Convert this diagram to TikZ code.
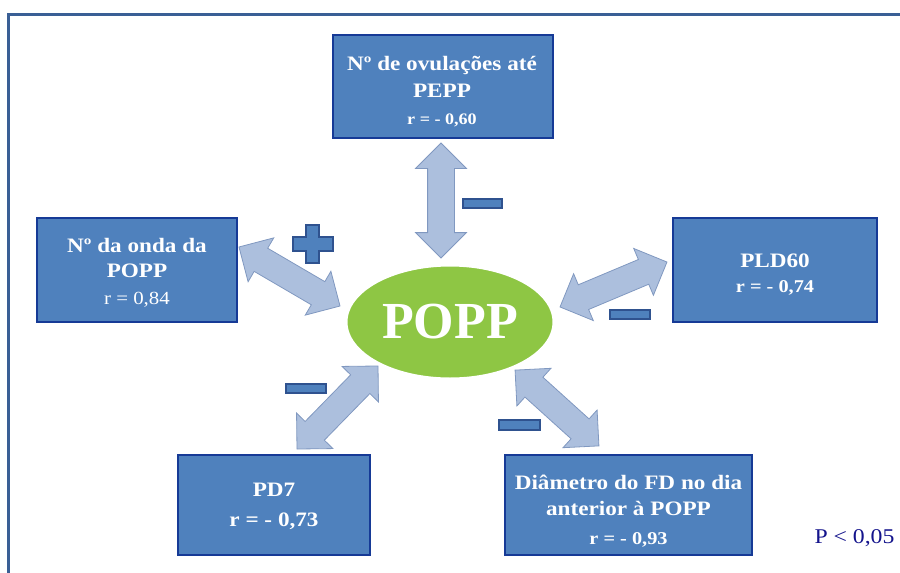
\documentclass[tikz,border=0pt]{standalone}
\usepackage{fontspec}
\setmainfont{Liberation Serif}
\newfontfamily\widefont{Liberation Serif}[FakeStretch=1.13]
\usetikzlibrary{shapes.geometric,shapes.arrows}
\definecolor{boxfill}{RGB}{79,129,189}
\definecolor{boxline}{RGB}{22,58,150}
\definecolor{framecol}{RGB}{58,95,149}
\definecolor{ellfill}{RGB}{142,198,68}
\definecolor{arrfill}{RGB}{172,191,221}
\definecolor{arrline}{RGB}{128,152,192}
\definecolor{signline}{RGB}{47,82,143}
\definecolor{pcol}{RGB}{20,20,140}
\tikzset{
  infobox/.style={draw=boxline, line width=2pt, fill=boxfill, inner sep=0pt},
  boxtext/.style={text=white, align=center, inner sep=0pt},
  dblarrow/.style={shape=double arrow, draw=arrline, line width=0.8pt, fill=arrfill,
    inner xsep=0pt, inner ysep=13pt, double arrow head extend=12pt,
    double arrow tip angle=90},
  signbar/.style={draw=signline, line width=1.5pt, fill=boxfill},
}
\begin{document}
\begin{tikzpicture}[x=1pt,y=-1pt]
\useasboundingbox (0,0) rectangle (900,573);
% frame
\draw[framecol, line width=3pt] (8,575) -- (8,14) -- (902,14);

% boxes
\node[infobox, minimum width=220pt, minimum height=103pt] (top) at (443,86.5) {};
\node[boxtext, font=\widefont\fontsize{20.5}{27}\selectfont\bfseries] (topt) at (442,91.5)
  {Nº de ovulações até\\ PEPP\\ {\fontsize{16}{27}\selectfont r = - 0,60}};

\node[infobox, minimum width=200pt, minimum height=104pt] (left) at (137,270) {};
\node[boxtext, font=\widefont\fontsize{20.5}{25}\selectfont\bfseries] (leftt) at (137,273)
  {Nº da onda da\\ POPP\\[2pt] {\mdseries\fontsize{18.5}{25}\selectfont r = 0,84}};

\node[infobox, minimum width=204pt, minimum height=104pt] (right) at (775,270) {};
\node[boxtext, font=\widefont\fontsize{20.5}{25}\selectfont\bfseries] (rightt) at (775,275)
  {PLD60\\ {\fontsize{18}{25}\selectfont r = - 0,74}};

\node[infobox, minimum width=192pt, minimum height=100pt] (bl) at (274,505) {};
\node[boxtext, font=\widefont\fontsize{20.5}{30}\selectfont\bfseries] (blt) at (274,506)
  {PD7\\ r = - 0,73};

\node[infobox, minimum width=247pt, minimum height=100pt] (br) at (628.5,505) {};
\node[boxtext, font=\widefont\fontsize{20.5}{26}\selectfont\bfseries] (brt) at (628.5,511)
  {Diâmetro do FD no dia\\ anterior à POPP\\[3pt] {\fontsize{18}{26}\selectfont r = - 0,93}};

% central ellipse
\node[ellipse, draw=white, line width=3pt, fill=ellfill, minimum width=208pt,
  minimum height=114pt, text=white, inner sep=0pt,
  font=\fontsize{52}{52}\selectfont\bfseries] (popp) at (450,322) {POPP};

% double arrows
\node[dblarrow, rotate=90, minimum height=115pt] (a1) at (441,200.5) {};
\node[dblarrow, rotate=-30.3, minimum height=117pt] (a2) at (289.5,276.5) {};
\node[dblarrow, rotate=22.8, minimum height=116pt] (a3) at (613.5,284.5) {};
\node[dblarrow, rotate=45.7, minimum height=116pt] (a4) at (337.5,407.5) {};
\node[dblarrow, rotate=-42.1, minimum height=113pt] (a5) at (557,408) {};

% signs
\node[signbar, minimum width=39pt, minimum height=9pt, inner sep=0pt] (m1) at (482.5,203.5) {};
\node[signbar, minimum width=40pt, minimum height=9pt, inner sep=0pt] (m2) at (630,314.5) {};
\node[signbar, minimum width=40pt, minimum height=9pt, inner sep=0pt] (m3) at (306,388.5) {};
\node[signbar, minimum width=41pt, minimum height=10pt, inner sep=0pt] (m4) at (519.5,425) {};
\filldraw[signbar] (306,225) -- (319,225) -- (319,237) -- (333,237) -- (333,251)
  -- (319,251) -- (319,263) -- (306,263) -- (306,251) -- (293,251) -- (293,237)
  -- (306,237) -- cycle;

% p value
\node[text=pcol, anchor=east, font=\widefont\fontsize{21}{24}\selectfont] (pval) at (898,538) {P < 0,05};
\end{tikzpicture}
\end{document}
